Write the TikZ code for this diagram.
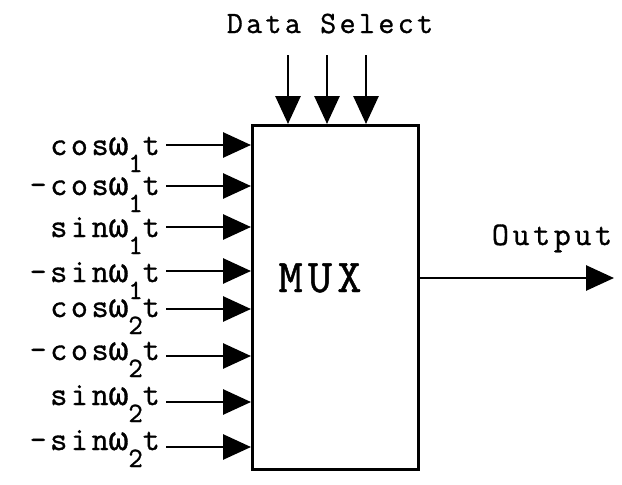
\documentclass[tikz,border=0pt]{standalone}
\usepackage{fontspec}
\newfontfamily\plotfont[LetterSpace=11,FakeBold=1]{Latin Modern Mono}
\newfontfamily\omegafont[FakeBold=1]{Liberation Mono}
\usetikzlibrary{arrows.meta,positioning}
\newcommand{\om}{{\omegafont ω}}
\newcommand{\down}[1]{\raisebox{-17pt}{\fontsize{28}{28}\selectfont#1}}

\begin{document}
\begin{tikzpicture}[x=1pt,y=-1pt]
\tikzset{every node/.style={inner sep=0pt,font=\plotfont\fontsize{33}{35}\selectfont},
feed/.style={draw,line width=2.8pt,-{Triangle[length=28pt,width=25pt]}}}
\useasboundingbox (0,0) rectangle (622,485);

\node[draw,line width=3pt,minimum width=166pt,minimum height=344pt,anchor=north west] (MUX) at (251,124) {};
\node[anchor=base,font=\plotfont\fontsize{47}{49}\selectfont] (MUX text) at (320,292) {MUX};

% selector lines on top
\node[anchor=base,font=\plotfont\fontsize{31}{33}\selectfont] (Data Select) at (330,33) {Data Select};
\foreach \x [count=\j] in {288,327,366} {
  \coordinate (sel\j) at (\x,55);
  \draw[feed] (sel\j) -- (sel\j |- MUX.north);
}

% carrier inputs
\foreach \ay/\ty/\txt [count=\i] in {
  145/155/{cos\om\down{1}t},
  186/195/{\textendash cos\om\down{1}t},
  227/237/{sin\om\down{1}t},
  271/282/{\textendash sin\om\down{1}t},
  309/317/{cos\om\down{2}t},
  356/360/{\textendash cos\om\down{2}t},
  402/405/{sin\om\down{2}t},
  447/450/{\textendash sin\om\down{2}t}} {
  \coordinate (in\i) at (166,\ay);
  \node[anchor=base east] (carrier\i) at (160,\ty) {\txt};
  \draw[feed] (in\i) -- (in\i -| MUX.west);
}

% output
\coordinate (out) at (614,278);
\node[anchor=base] (Output) at (552,245) {Output};
\draw[feed] (MUX.east |- out) -- (out);
\end{tikzpicture}
\end{document}
